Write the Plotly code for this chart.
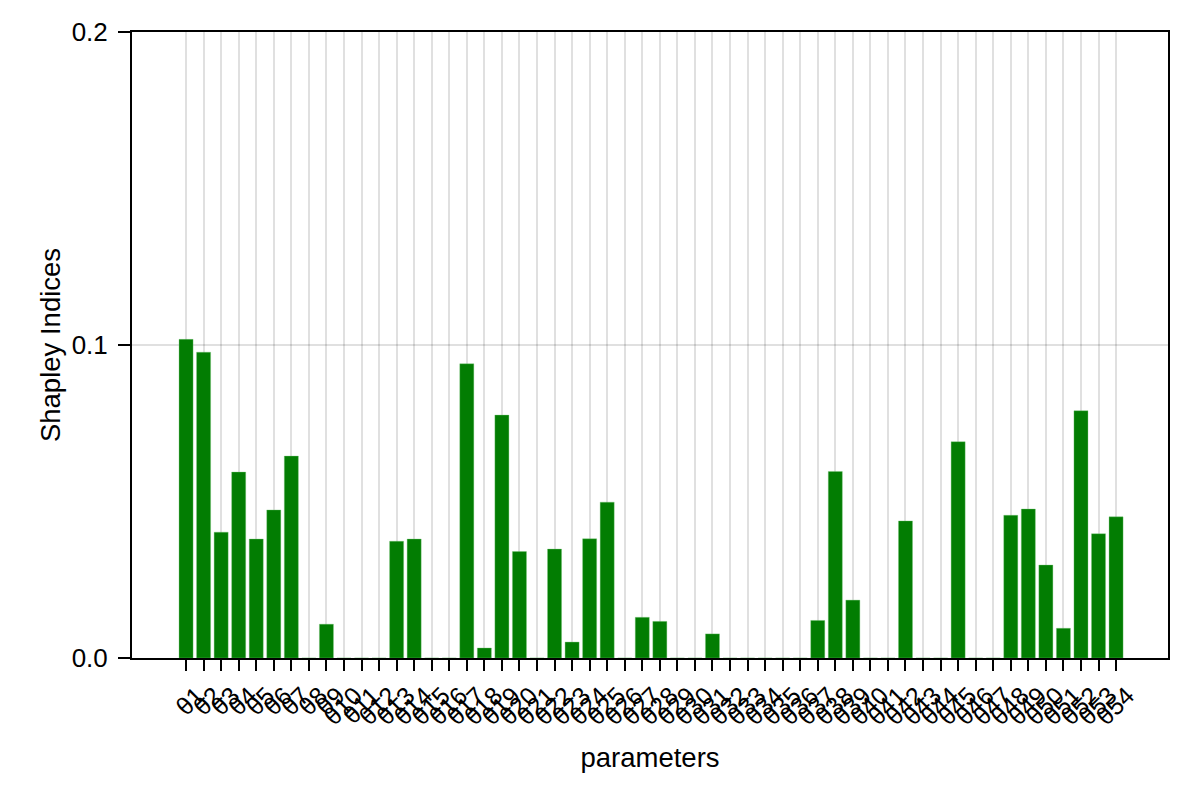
import plotly.graph_objects as go

params = [f"θ{i}" for i in range(1, 55)]
positions = list(range(1, 55))
shapley = [
    0.1018, 0.0977, 0.0402, 0.0594, 0.0380, 0.0473, 0.0645, 0.0, 0.0108, 0.0,
    0.0, 0.0, 0.0373, 0.0380, 0.0, 0.0, 0.0940, 0.0032, 0.0776, 0.0340,
    0.0, 0.0348, 0.0051, 0.0381, 0.0498, 0.0, 0.0130, 0.0117, 0.0, 0.0,
    0.0077, 0.0, 0.0, 0.0, 0.0, 0.0, 0.0120, 0.0596, 0.0185, 0.0,
    0.0, 0.0438, 0.0, 0.0, 0.0691, 0.0, 0.0, 0.0456, 0.0476, 0.0297,
    0.0095, 0.0790, 0.0397, 0.0451,
]
ytick_vals = [0.0, 0.1, 0.2]
ytick_text = ["0.0", "0.1", "0.2"]

FONT = "Liberation Sans, Arial, sans-serif"

fig = go.Figure()
fig.add_trace(go.Bar(
    x=positions, y=shapley, width=0.8,
    marker=dict(color="#027d02", line=dict(color="rgba(120,200,120,0.6)", width=0.6)),
))

fig.update_layout(
    width=1200, height=800,
    margin=dict(l=132, r=32, t=32, b=142),
    plot_bgcolor="white", paper_bgcolor="white",
    showlegend=False,
    font=dict(family=FONT, size=25, color="black"),
)
fig.update_xaxes(
    range=[-2.08, 56.96],
    tickmode="array", tickvals=positions, ticktext=params,
    tickangle=-45,
    ticks="outside", ticklen=11, tickwidth=1.5, tickcolor="black",
    ticklabelshift=11, ticklabelstandoff=0,
    showgrid=True, gridcolor="rgba(0,0,0,0.12)", gridwidth=1.5,
    showline=True, linecolor="black", linewidth=2, mirror=True,
    zeroline=False,
    tickfont=dict(size=25),
    title=dict(text="parameters", font=dict(size=27.5), standoff=18),
)
fig.update_yaxes(
    range=[0, 0.2],
    tickmode="array", tickvals=ytick_vals, ticktext=ytick_text,
    ticks="outside", ticklen=12, tickwidth=1.5, tickcolor="black",
    ticklabelstandoff=5,
    showgrid=True, gridcolor="rgba(0,0,0,0.12)", gridwidth=1.5,
    showline=True, linecolor="black", linewidth=2, mirror=True,
    zeroline=False,
    tickfont=dict(size=26),
    title=dict(text="Shapley Indices", font=dict(size=27.5), standoff=3),
)

fig.write_html("out.html")
